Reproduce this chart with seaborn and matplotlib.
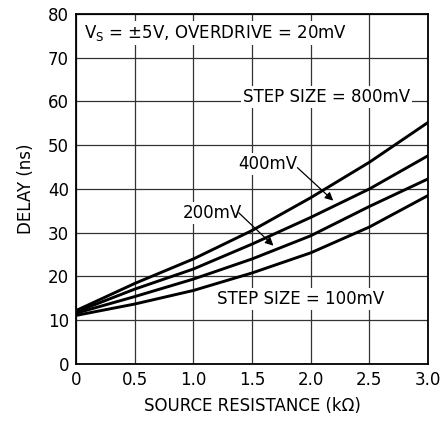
import pandas as pd
import seaborn as sns
import matplotlib
matplotlib.use("Agg")
import matplotlib.pyplot as plt

# curve readings (delay vs source resistance)
resistance = [0, 0.5, 1.0, 1.5, 2.0, 2.5, 3.0]
delay_800 = [12.2, 18.4, 24.0, 30.5, 38.0, 46.1, 55.2]
delay_400 = [11.9, 17.1, 21.7, 27.4, 33.5, 40.0, 47.6]
delay_200 = [11.6, 15.4, 19.4, 24.0, 29.3, 36.0, 42.3]
delay_100 = [11.1, 13.7, 16.8, 20.8, 25.4, 31.3, 38.5]
x_ticks = [0, 0.5, 1.0, 1.5, 2.0, 2.5, 3.0]
x_tick_labels = ["0", "0.5", "1.0", "1.5", "2.0", "2.5", "3.0"]
y_ticks = [0, 10, 20, 30, 40, 50, 60, 70, 80]

df = pd.DataFrame({
    "r": resistance * 4,
    "delay": delay_800 + delay_400 + delay_200 + delay_100,
    "step": ["800"] * 7 + ["400"] * 7 + ["200"] * 7 + ["100"] * 7,
})

sns.set_style("white")
plt.rcParams["font.family"] = ["DejaVu Sans"]
plt.rcParams["text.color"] = "black"
plt.rcParams["axes.labelcolor"] = "black"

fig = plt.figure(figsize=(4.4, 4.23), dpi=100)
ax = fig.add_axes([0.1727, 0.1395, 0.8, 0.8275])

sns.lineplot(data=df, x="r", y="delay", hue="step", palette=["black"] * 4,
             linewidth=2.1, legend=False, ax=ax, zorder=3)

ax.set_xlim(0, 3.0)
ax.set_ylim(0, 80)
ax.set_xticks(x_ticks)
ax.set_xticklabels(x_tick_labels)
ax.set_yticks(y_ticks)
ax.grid(True, color="#333333", linewidth=0.9)
for s in ax.spines.values():
    s.set_color("black")
    s.set_linewidth(1.3)
fs = 12
ax.tick_params(length=0, labelsize=fs, pad=5, colors="black")
ax.set_xlabel("SOURCE RESISTANCE (k\u03a9)", fontsize=fs, labelpad=6, color="black")
ax.set_ylabel("DELAY (ns)", fontsize=fs, labelpad=9, color="black")

box = dict(facecolor="white", edgecolor="none", pad=1.5)
ax.text(0.07, 75.7, r"$\mathregular{V_S}$ = ±5V, OVERDRIVE = 20mV", fontsize=fs,
        va="center", ha="left", bbox=box, zorder=4, color="black")
ax.text(1.42, 61.1, "STEP SIZE = 800mV", fontsize=fs, va="center", ha="left",
        bbox=box, zorder=4, color="black")
ax.text(1.38, 45.8, "400mV", fontsize=fs, va="center", ha="left", bbox=box,
        zorder=4, color="black")
ax.text(0.91, 34.4, "200mV", fontsize=fs, va="center", ha="left", bbox=box,
        zorder=4, color="black")
ax.text(1.20, 14.9, "STEP SIZE = 100mV", fontsize=fs, va="center", ha="left",
        bbox=box, zorder=4, color="black")

arrow = dict(arrowstyle="-|>", color="black", lw=0.9, mutation_scale=12)
ax.annotate("", xy=(2.21, 36.9), xytext=(1.87, 45.3), arrowprops=arrow, zorder=5)
ax.annotate("", xy=(1.70, 26.6), xytext=(1.37, 35.0), arrowprops=arrow, zorder=5)

fig.savefig("out.png", dpi=100)
